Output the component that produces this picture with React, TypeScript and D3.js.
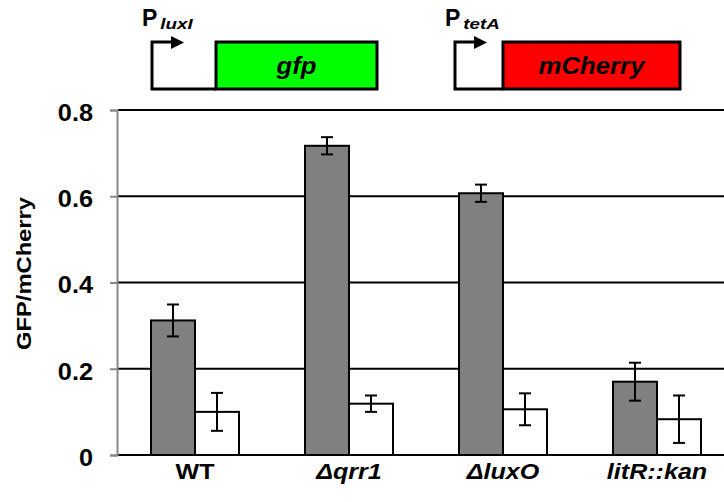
import { useRef, useEffect } from "react";
import * as d3 from "d3";

// strains on the x axis
const strains = ["WT", "\u0394qrr1", "\u0394luxO", "litR::kan"];
const italicLabel = [false, true, true, true];
// grey bars and white bars, with error bars
const greyValues = [0.312, 0.717, 0.607, 0.17];
const greyErrors = [0.037, 0.02, 0.02, 0.044];
const whiteValues = [0.1, 0.119, 0.106, 0.083];
const whiteErrors = [0.044, 0.019, 0.037, 0.055];
const yTicks = [0, 0.2, 0.4, 0.6, 0.8];

const FONT = "Liberation Sans, Arial, sans-serif";

// the original text is set a bit wider than Liberation Sans
function stretch(sel: any, k: number) {
  sel.each(function (this: any) {
    const len = this.getComputedTextLength();
    d3.select(this).attr("textLength", len * k).attr("lengthAdjust", "spacingAndGlyphs");
  });
}

export default function App() {
  const ref = useRef<SVGSVGElement | null>(null);

  useEffect(() => {
    const svg = d3.select(ref.current);
    svg.selectAll("*").remove();

    const width = 724;
    const height = 502;
    const margin = { top: 110, right: -10, bottom: 47, left: 118 };

    const x = d3
      .scaleBand()
      .domain(strains)
      .range([margin.left, width - margin.right])
      .paddingInner(0)
      .paddingOuter(0);

    const y = d3
      .scaleLinear()
      .domain([0, 0.8])
      .range([height - margin.bottom, margin.top]);

    const barW = 44;

    // gridlines
    svg
      .append("g")
      .selectAll("line")
      .data(yTicks)
      .join("line")
      .attr("x1", margin.left)
      .attr("x2", width)
      .attr("y1", (d) => y(d))
      .attr("y2", (d) => y(d))
      .attr("stroke", "#000")
      .attr("stroke-width", 2);

    // y axis
    const yAxis = d3
      .axisLeft(y)
      .tickValues(yTicks)
      .tickSize(7)
      .tickPadding(17)
      .tickFormat((d) => (d === 0 ? "0" : d3.format(".1f")(d as number)));
    const ga = svg
      .append("g")
      .attr("transform", `translate(${margin.left - 1},0)`)
      .call(yAxis);
    ga.select(".domain").attr("stroke", "#888").attr("stroke-width", 2);
    ga.selectAll(".tick line").attr("stroke", "#888").attr("stroke-width", 2);
    const tickText = ga
      .selectAll(".tick text")
      .attr("font-family", FONT)
      .attr("font-size", 23)
      .attr("font-weight", "bold")
      .attr("dy", "0.45em")
      .attr("fill", "#000");
    stretch(tickText, 1.1);

    // y title
    const title = svg
      .append("text")
      .attr("transform", `translate(31,${y(0.4) - 9}) rotate(-90)`)
      .attr("text-anchor", "middle")
      .attr("font-family", FONT)
      .attr("font-size", 21)
      .attr("font-weight", "bold")
      .text("GFP/mCherry");
    stretch(title, 1.13);

    const groups = svg
      .append("g")
      .selectAll("g")
      .data(strains)
      .join("g")
      .attr("transform", (d) => `translate(${(x(d) as number) + x.bandwidth() / 2},0)`);

    // grey bars
    groups
      .append("rect")
      .attr("x", -barW)
      .attr("width", barW)
      .attr("y", (d, i) => y(greyValues[i]))
      .attr("height", (d, i) => y(0) - y(greyValues[i]))
      .attr("fill", "#808080")
      .attr("stroke", "#000")
      .attr("stroke-width", 2);

    // white bars
    groups
      .append("rect")
      .attr("x", 0)
      .attr("width", barW)
      .attr("y", (d, i) => y(whiteValues[i]))
      .attr("height", (d, i) => y(0) - y(whiteValues[i]))
      .attr("fill", "#fff")
      .attr("stroke", "#000")
      .attr("stroke-width", 2);

    // error bars
    const drawErr = (cx: number, vals: number[], errs: number[]) => {
      groups.each(function (d, i) {
        const g = d3.select(this);
        const top = y(vals[i] + errs[i]);
        const bot = y(vals[i] - errs[i]);
        g.append("line")
          .attr("x1", cx).attr("x2", cx)
          .attr("y1", top).attr("y2", bot)
          .attr("stroke", "#000").attr("stroke-width", 2);
        [top, bot].forEach((yy) =>
          g.append("line")
            .attr("x1", cx - 6).attr("x2", cx + 6)
            .attr("y1", yy).attr("y2", yy)
            .attr("stroke", "#000").attr("stroke-width", 2)
        );
      });
    };
    drawErr(-barW / 2, greyValues, greyErrors);
    drawErr(barW / 2, whiteValues, whiteErrors);

    // x labels
    const xl = groups
      .append("text")
      .attr("y", 479)
      .attr("text-anchor", "middle")
      .attr("font-family", FONT)
      .attr("font-size", 22)
      .attr("font-weight", "bold")
      .attr("font-style", (d, i) => (italicLabel[i] ? "italic" : "normal"))
      .text((d) => d);
    stretch(xl, 1.14);

    // construct diagrams above the plot
    const constructs = [
      { px: 152, boxX: 216, boxW: 161, fill: "#00ff00", gene: "gfp", sub: "luxI" },
      { px: 455, boxX: 503, boxW: 177, fill: "#ff0000", gene: "mCherry", sub: "tetA" },
    ];
    constructs.forEach((c) => {
      const g = svg.append("g");
      g.append("path")
        .attr("d", `M${c.px + 20},42 H${c.px} V89 H${c.boxX}`)
        .attr("fill", "none")
        .attr("stroke", "#000")
        .attr("stroke-width", 3);
      g.append("path")
        .attr("d", `M${c.px + 19},36 L${c.px + 32},42.5 L${c.px + 19},49 Z`)
        .attr("fill", "#000");
      g.append("rect")
        .attr("x", c.boxX)
        .attr("y", 42)
        .attr("width", c.boxW)
        .attr("height", 47)
        .attr("fill", c.fill)
        .attr("stroke", "#000")
        .attr("stroke-width", 3);
      const gene = g
        .append("text")
        .attr("x", c.boxX + c.boxW / 2)
        .attr("y", 74)
        .attr("text-anchor", "middle")
        .attr("font-family", FONT)
        .attr("font-size", 23)
        .attr("font-weight", "bold")
        .attr("font-style", "italic")
        .text(c.gene);
      stretch(gene, 1.12);
      const t = g
        .append("text")
        .attr("x", c.px - 10)
        .attr("y", 26)
        .attr("font-family", FONT)
        .attr("font-weight", "bold");
      t.append("tspan").attr("font-size", 23).text("P");
      const sub = t
        .append("tspan")
        .attr("font-size", 15)
        .attr("font-style", "italic")
        .attr("dx", 3)
        .attr("dy", 3)
        .text(c.sub);
      stretch(sub, 1.25);
    });
  }, []);

  return (
    <svg
      ref={ref}
      width={724}
      height={502}
      style={{ position: "absolute", left: 0, top: 0, background: "#fff" }}
    />
  );
}
